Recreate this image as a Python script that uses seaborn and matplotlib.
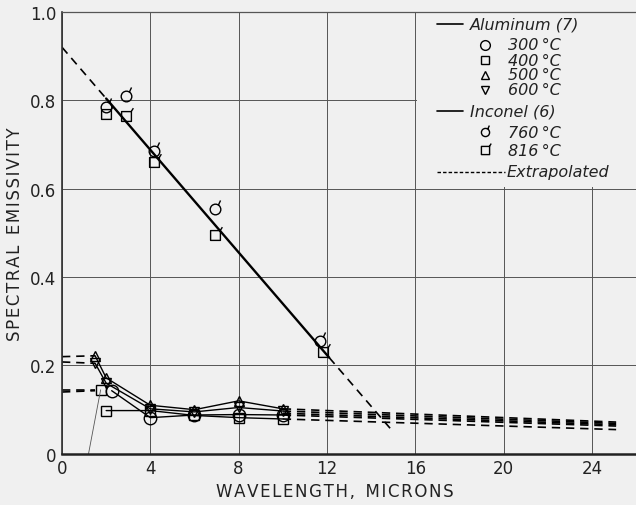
import numpy as np
import pandas as pd
import matplotlib
matplotlib.use('Agg')
import matplotlib.pyplot as plt
import seaborn as sns
from matplotlib.path import Path
from matplotlib.patches import Rectangle

# Aluminum (7) - spectral emissivity vs wavelength
al_300_x = [2.25, 4.0, 6.0, 8.0, 10.0]
al_300_y = [0.143, 0.082, 0.088, 0.089, 0.088]
al_400_x = [2.0, 4.0, 6.0, 8.0, 10.0]
al_400_y = [0.098, 0.098, 0.087, 0.082, 0.079]
al_400_extra_x = [1.75]
al_400_extra_y = [0.145]
al_500_x = [1.5, 2.0, 4.0, 6.0, 8.0, 10.0]
al_500_y = [0.222, 0.172, 0.110, 0.100, 0.120, 0.102]
al_600_x = [1.5, 2.0, 4.0, 6.0, 8.0, 10.0]
al_600_y = [0.205, 0.160, 0.102, 0.095, 0.105, 0.097]

# Inconel (6)
inc_760_x = [2.0, 2.9, 4.15, 6.95, 11.7]
inc_760_y = [0.785, 0.810, 0.685, 0.555, 0.255]
inc_816_x = [2.0, 2.9, 4.15, 6.95, 11.8]
inc_816_y = [0.770, 0.765, 0.660, 0.495, 0.230]
inc_fit_x = [2.0, 12.1]
inc_fit_y = [0.804, 0.218]

# extrapolated (dashed) pieces
inc_ext_left_x = [0.0, 2.0]
inc_ext_left_y = [0.920, 0.804]
inc_ext_right_x = [12.1, 15.0]
inc_ext_right_y = [0.218, 0.050]
al_ext_left_x = [0.0, 1.5]
al_ext_left_y = [[0.220, 0.222], [0.208, 0.205], [0.145, 0.145], [0.140, 0.143]]
al_ext_right_x = [10.0, 25.1]
al_ext_right_y = [[0.102, 0.072], [0.097, 0.069], [0.092, 0.066],
                  [0.088, 0.063], [0.079, 0.055]]
odd_line_x = [1.2, 1.75]
odd_line_y = [0.0, 0.145]

xticks = [0, 4, 8, 12, 16, 20, 24]
yticks = [0, 0.2, 0.4, 0.6, 0.8, 1.0]
ytick_labels = ['0', '0.2', '0.4', '0.6', '0.8', '1.0']

leg_labels = ['Aluminum (7)', '300\u2009°C', '400\u2009°C', '500\u2009°C', '600\u2009°C',
              'Inconel (6)', '760\u2009°C', '816\u2009°C', 'Extrapolated']

bg = '#f0f0f0'
sns.set_style("whitegrid")
plt.rcParams['font.family'] = ['DejaVu Sans']

# markers with a little tick for Inconel
_circ = Path.unit_circle()
_tick_c = Path([[0.55, 0.85], [0.95, 1.7]], [Path.MOVETO, Path.LINETO])
circ_tick = Path.make_compound_path(_circ, _tick_c)
_sq = Path([[-1, -1], [1, -1], [1, 1], [-1, 1], [-1, -1]],
           [Path.MOVETO, Path.LINETO, Path.LINETO, Path.LINETO, Path.CLOSEPOLY])
_tick_s = Path([[0.9, 0.9], [1.4, 1.7]], [Path.MOVETO, Path.LINETO])
sq_tick = Path.make_compound_path(_sq, _tick_s)

fig = plt.figure(figsize=(6.36, 5.06), dpi=100, facecolor=bg)
ax = fig.add_axes([0.0975, 0.101, 0.9025, 0.8735])
ax.set_facecolor(bg)

lk = dict(color='black', linewidth=1.0, markerfacecolor='none',
          markeredgecolor='black', markeredgewidth=1.0)
dash = dict(color='black', linewidth=1.2, linestyle=(0, (5, 3.5)))

# Inconel fitted line + extrapolation
sns.lineplot(x=inc_fit_x, y=inc_fit_y, ax=ax, color='black', linewidth=1.7)
ax.plot(inc_ext_left_x, inc_ext_left_y, **dash)
ax.plot(inc_ext_right_x, inc_ext_right_y, **dash)
ax.plot(inc_760_x, inc_760_y, linestyle='none', marker=circ_tick, markersize=13,
        markerfacecolor='none', markeredgecolor='black', markeredgewidth=1.0)
ax.plot(inc_816_x, inc_816_y, linestyle='none', marker=sq_tick, markersize=12,
        markerfacecolor='none', markeredgecolor='black', markeredgewidth=1.0)

# Aluminum curves
sns.lineplot(x=al_500_x, y=al_500_y, ax=ax, marker='^', markersize=7, **lk)
sns.lineplot(x=al_600_x, y=al_600_y, ax=ax, marker='v', markersize=7, **lk)
sns.lineplot(x=al_400_x, y=al_400_y, ax=ax, marker='s', markersize=7, **lk)
sns.lineplot(x=al_300_x, y=al_300_y, ax=ax, marker='o', markersize=9, **lk)
ax.plot(al_400_extra_x, al_400_extra_y, linestyle='none', marker='s', markersize=7,
        markerfacecolor='none', markeredgecolor='black')
ax.plot(odd_line_x, odd_line_y, color='#555555', linewidth=0.6)

for yy in al_ext_left_y:
    ax.plot(al_ext_left_x, yy, **dash)
for yy in al_ext_right_y:
    ax.plot(al_ext_right_x, yy, **dash)

ax.set_xlim(0, 26)
ax.set_ylim(0, 1.0)
ax.set_xticks(xticks)
ax.set_xticklabels([str(t) for t in xticks])
ax.set_yticks(yticks)
ax.set_yticklabels(ytick_labels)
ax.tick_params(axis='both', labelsize=12, length=0, pad=4, colors='#222222')
ax.grid(True, color='#555555', linewidth=0.7)
for side in ['top', 'right']:
    ax.spines[side].set_visible(False)
ax.spines['left'].set_color('#333333')
ax.spines['left'].set_linewidth(1.2)
ax.spines['bottom'].set_color('#222222')
ax.spines['bottom'].set_linewidth(1.8)
ax.plot([0, 26], [1.0, 1.0], color='#555555', linewidth=0.9, clip_on=False, zorder=3)

hs = '\u200a'
ax.set_xlabel(hs.join('WAVELENGTH,') + '  ' + hs.join('MICRONS'),
              fontsize=12, color='#222222')
ax.xaxis.set_label_coords(0.476, -0.063)
ax.set_ylabel(hs.join('SPECTRAL') + '  ' + hs.join('EMISSIVITY'),
              fontsize=12, color='#222222')
ax.yaxis.set_label_coords(-0.066, 0.5)

# legend area: blank panel over the grid, drawn by hand
ax.add_patch(Rectangle((16.06, 0.603), 10, 0.4, facecolor=bg, edgecolor='none', zorder=1))

def fx(px):
    return px / 636.0

def fy(py):
    return 1 - py / 506.0

row_y = [25, 46, 61, 76, 91, 112, 133, 151, 173]
kinds = ['head', 'o', 's', '^', 'v', 'head', circ_tick, sq_tick, 'ext']
msizes = {'o': 7, 's': 6, '^': 6, 'v': 6}
for lab, py, kind in zip(leg_labels, row_y, kinds):
    if isinstance(kind, str) and kind == 'head':
        fig.add_artist(plt.Line2D([fx(437), fx(463)], [fy(py), fy(py)], color='black',
                                  linewidth=1.2, transform=fig.transFigure))
        fig.text(fx(470), fy(py), lab, fontsize=11.5, style='italic',
                 va='center', ha='left', color='#222222')
    elif isinstance(kind, str) and kind == 'ext':
        fig.add_artist(plt.Line2D([fx(437), fx(505)], [fy(py), fy(py)], color='black',
                                  linewidth=1.0, linestyle=(0, (2.5, 1.5)),
                                  transform=fig.transFigure))
        fig.text(fx(507), fy(py), lab, fontsize=11.5, style='italic',
                 va='center', ha='left', color='#222222')
    else:
        ms = msizes.get(kind, 10) if isinstance(kind, str) else 10
        fig.add_artist(plt.Line2D([fx(485)], [fy(py)], marker=kind, markersize=ms,
                                  linestyle='none', markerfacecolor='none',
                                  markeredgecolor='black', markeredgewidth=1.0,
                                  transform=fig.transFigure))
        fig.text(fx(508), fy(py), lab, fontsize=11.5, style='italic',
                 va='center', ha='left', color='#222222')

fig.savefig('out.png', dpi=100, facecolor=bg)
